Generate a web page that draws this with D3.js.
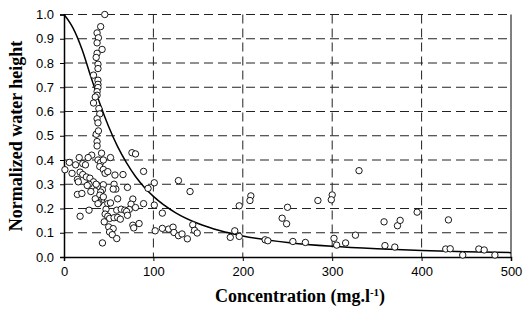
<!DOCTYPE html>
<html>
<head>
<meta charset="utf-8">
<script src="https://cdn.jsdelivr.net/npm/d3@7"></script>
<style>
  body { margin: 0; background: #fff; }
  .tick text { font-family: "Liberation Sans", Arial, sans-serif; font-size: 13px; }
  .title { font-family: "Liberation Serif", "Times New Roman", serif; font-size: 18px; font-weight: bold; }
</style>
</head>
<body>
<script>
//measured samples (concentration mg/l, normalized water height)
var concentration = [
  45.6, 41, 37, 38.5, 37, 42.6, 37, 36, 38, 38, 33, 38, 38, 38, 37, 37, 35, 33, 39, 40, 37, 38, 36, 38.5,
  37, 37, 42, 31, 27, 17, 38, 41, 44, 52, 76, 80, 6, 1, 13, 21, 24, 9, 18, 21, 15, 16, 25, 29,
  40, 44, 46, 49, 57, 66, 89, 101, 94, 15, 20, 28, 18,
  31, 37, 40, 44, 43, 41, 56, 58, 55, 71, 40, 42, 39, 44, 49, 52, 60, 77, 75, 80, 73,
  47, 46, 59, 64, 68, 70, 49, 51, 56, 60, 63, 71, 45, 77, 84, 78, 50, 55, 51, 54, 59, 43,
  89, 101, 102, 33, 36, 28, 35, 38, 26, 30,
  110, 110, 117, 122, 123, 128, 132, 138, 128, 141, 144, 146, 149, 186, 191, 196, 196,
  209, 208, 225, 228, 244, 249, 250, 256, 270, 284,
  300, 299, 330, 302, 305, 315, 326, 358, 373, 376, 395, 359, 370, 430, 427, 432, 446, 464, 470, 482
];
var waterHeight = [
  1.0, 0.95, 0.924, 0.904, 0.883, 0.856, 0.84, 0.823, 0.795, 0.777, 0.75, 0.729, 0.712, 0.699, 0.682, 0.667, 0.66, 0.635, 0.612, 0.59, 0.57, 0.553, 0.506, 0.52,
  0.476, 0.458, 0.428, 0.42, 0.41, 0.41, 0.40, 0.39, 0.40, 0.41, 0.43, 0.425, 0.39, 0.36, 0.38, 0.385, 0.38, 0.345, 0.35, 0.34, 0.32, 0.31, 0.33, 0.325,
  0.373, 0.361, 0.345, 0.352, 0.338, 0.34, 0.353, 0.306, 0.283, 0.258, 0.262, 0.193, 0.168,
  0.292, 0.296, 0.289, 0.298, 0.277, 0.268, 0.30, 0.28, 0.28, 0.287, 0.255, 0.235, 0.224, 0.248, 0.22, 0.223, 0.24, 0.239, 0.218, 0.204, 0.196,
  0.197, 0.177, 0.193, 0.197, 0.193, 0.188, 0.168, 0.159, 0.162, 0.163, 0.156, 0.172, 0.145, 0.131, 0.138, 0.12, 0.124, 0.117, 0.103, 0.092, 0.076, 0.058,
  0.22, 0.214, 0.108, 0.31, 0.30, 0.30, 0.24, 0.22, 0.295, 0.27,
  0.181, 0.118, 0.115, 0.123, 0.101, 0.088, 0.095, 0.075, 0.315, 0.27, 0.133, 0.11, 0.099, 0.081, 0.108, 0.085, 0.211,
  0.252, 0.233, 0.071, 0.067, 0.16, 0.137, 0.205, 0.064, 0.06, 0.233,
  0.256, 0.236, 0.356, 0.077, 0.049, 0.058, 0.09, 0.145, 0.129, 0.151, 0.185, 0.047, 0.041, 0.153, 0.033, 0.034, 0.008, 0.033, 0.029, 0.008
];

//fitted curve
var curveX = [0, 10, 20, 30, 40, 50, 60, 70, 80, 90, 100, 125, 150, 175, 200, 250, 300, 350, 400, 450, 500];
var curveY = [1.0, 0.945, 0.858, 0.744, 0.634, 0.537, 0.455, 0.388, 0.332, 0.287, 0.25, 0.182, 0.138, 0.108, 0.087, 0.060, 0.044, 0.034, 0.027, 0.022, 0.018];

var xTicks = [0, 100, 200, 300, 400, 500];
var yTicks = [0, 0.1, 0.2, 0.3, 0.4, 0.5, 0.6, 0.7, 0.8, 0.9, 1.0];

window.onload = drawChart();

function drawChart(){

    var width = 524,
        height = 309;

    var left = 64, right = 511, top = 14.5, bottom = 257;

    var svg = d3.select("body")
        .append("svg")
        .attr("width", width)
        .attr("height", height);

    var x = d3.scaleLinear().domain([0, 500]).range([left, right]);
    var y = d3.scaleLinear().domain([0, 1]).range([bottom, top]);

    //dashed gridlines
    svg.selectAll(".hgrid")
        .data(yTicks.slice(1))
        .enter()
        .append("line")
        .attr("x1", left).attr("x2", right)
        .attr("y1", function(d){ return y(d); })
        .attr("y2", function(d){ return y(d); })
        .attr("stroke", "#222")
        .attr("stroke-dasharray", "9,5");

    svg.selectAll(".vgrid")
        .data(xTicks.slice(1, -1))
        .enter()
        .append("line")
        .attr("y1", top).attr("y2", bottom)
        .attr("x1", function(d){ return x(d); })
        .attr("x2", function(d){ return x(d); })
        .attr("stroke", "#222")
        .attr("stroke-dasharray", "9,5");

    //right border
    svg.append("line")
        .attr("x1", right).attr("x2", right)
        .attr("y1", top).attr("y2", bottom)
        .attr("stroke", "#000");

    //axes
    var xAxis = svg.append("g")
        .attr("transform", "translate(0," + bottom + ")")
        .call(d3.axisBottom(x).tickValues(xTicks).tickSize(4).tickPadding(6).tickFormat(d3.format("d")));
    var yAxis = svg.append("g")
        .attr("transform", "translate(" + left + ",0)")
        .call(d3.axisLeft(y).tickValues(yTicks).tickSize(4).tickPadding(6).tickFormat(d3.format(".1f")));

    xAxis.select(".domain").attr("stroke-width", 1.5);
    yAxis.select(".domain").attr("stroke-width", 1.5);
    svg.selectAll(".tick text").attr("fill", "#000");

    //fitted curve
    var line = d3.line()
        .x(function(d){ return x(d[0]); })
        .y(function(d){ return y(d[1]); })
        .curve(d3.curveMonotoneX);

    svg.append("path")
        .datum(d3.zip(curveX, curveY))
        .attr("fill", "none")
        .attr("stroke", "#000")
        .attr("stroke-width", 1.5)
        .attr("d", line);

    //data points
    svg.selectAll(".pt")
        .data(d3.zip(concentration, waterHeight))
        .enter()
        .append("circle")
        .attr("class", "pt")
        .attr("cx", function(d){ return x(d[0]); })
        .attr("cy", function(d){ return y(d[1]); })
        .attr("r", 3.2)
        .attr("fill", "#fff")
        .attr("stroke", "#000")
        .attr("stroke-width", 0.9);

    //axis titles
    var xt = svg.append("text")
        .attr("class", "title")
        .attr("x", 300)
        .attr("y", 302)
        .attr("text-anchor", "middle")
        .text("Concentration (mg.l");
    xt.append("tspan")
        .attr("font-size", "11px")
        .attr("dy", -6)
        .text("-1");
    xt.append("tspan")
        .attr("dy", 6)
        .text(")");

    svg.append("text")
        .attr("class", "title")
        .attr("transform", "translate(22,136) rotate(-90)")
        .attr("text-anchor", "middle")
        .text("Normalized water height");
};
</script>
</body>
</html>
